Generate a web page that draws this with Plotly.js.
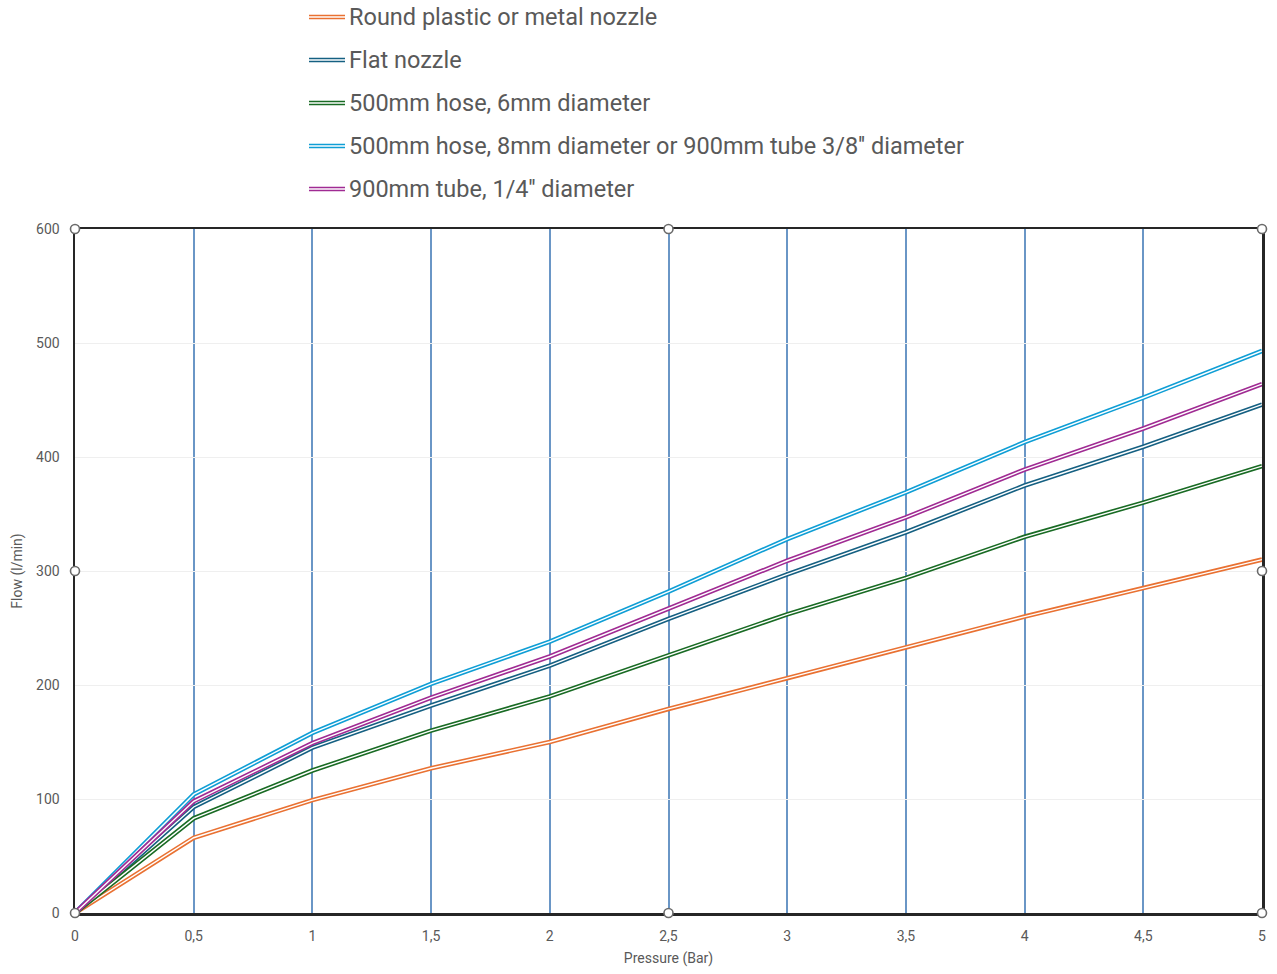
<!DOCTYPE html>
<html>
<head>
<meta charset="utf-8">
<script src="https://cdn.plot.ly/plotly-3.0.1.min.js"></script>
<style>html,body{margin:0;padding:0;background:#fff;}#chart{width:1277px;height:974px;}</style>
</head>
<body>
<div id="chart"></div>
<script>
const pressure = [0, 0.5, 1, 1.5, 2, 2.5, 3, 3.5, 4, 4.5, 5];
const seriesNames = [
  "Round plastic or metal nozzle",
  "Flat nozzle",
  "500mm hose, 6mm diameter",
  "500mm hose, 8mm diameter or 900mm tube 3/8'' diameter",
  "900mm tube, 1/4'' diameter"
];
const roundNozzle = [0, 66, 99, 127, 150, 179, 206, 233, 260, 285, 310];
const flatNozzle  = [0, 93, 145, 182, 217, 258, 297, 334, 375, 409, 446];
const hose6mm     = [0, 83, 125, 160, 190, 226, 262, 294, 330, 360, 392];
const hose8mm     = [0, 104, 158, 201, 238, 282, 328, 369, 413, 452, 493];
const tube14      = [0, 98, 149, 189, 225, 267, 309, 347, 389, 425, 464];
const seriesValues = [roundNozzle, flatNozzle, hose6mm, hose8mm, tube14];
const seriesColors = ["#E97132", "#156082", "#196B24", "#0F9ED5", "#A02B93"];
const xTickVals = [0, 0.5, 1, 1.5, 2, 2.5, 3, 3.5, 4, 4.5, 5];
const yTickVals = [0, 100, 200, 300, 400, 500, 600];

const traces = [];
seriesValues.forEach((vals, i) => {
  traces.push({x: pressure, y: vals, type: 'scatter', mode: 'lines', name: seriesNames[i],
    line: {color: seriesColors[i], width: 4.6}, showlegend: false, hoverinfo: 'skip'});
  traces.push({x: pressure, y: vals, type: 'scatter', mode: 'lines', name: seriesNames[i] + ' inner',
    line: {color: '#ffffff', width: 1.4}, showlegend: false, hoverinfo: 'skip'});
});

const L = 75, R = 1262, T = 229, B = 913;
const W = R - L, H = B - T;
function px2paperX(p) { return (p - L) / W; }
function px2paperY(p) { return (B - p) / H; }

const shapes = [];
const annotations = [];
const legendY = [17, 60, 103, 146, 189];
seriesNames.forEach((n, i) => {
  const yy = px2paperY(legendY[i]);
  shapes.push({type: 'line', xref: 'paper', yref: 'paper', x0: px2paperX(309), x1: px2paperX(345), y0: yy, y1: yy,
    line: {color: seriesColors[i], width: 4.6}});
  shapes.push({type: 'line', xref: 'paper', yref: 'paper', x0: px2paperX(309), x1: px2paperX(345), y0: yy, y1: yy,
    line: {color: '#ffffff', width: 1.4}});
  annotations.push({xref: 'paper', yref: 'paper', x: px2paperX(347), y: yy, xanchor: 'left', yanchor: 'middle',
    text: n, showarrow: false, font: {family: 'Roboto, sans-serif', size: 23.5, color: '#595959'}});
});

// selection-handle circles at corners and midpoints
const handles = [[0,1],[0.5,1],[1,1],[0,0.5],[1,0.5],[0,0],[0.5,0],[1,0]];
handles.forEach(h => {
  shapes.push({type: 'circle', xref: 'x domain', yref: 'y domain', xsizemode: 'pixel', ysizemode: 'pixel',
    xanchor: h[0], yanchor: h[1], x0: -4.5, x1: 4.5, y0: -4.5, y1: 4.5,
    fillcolor: '#ffffff', line: {color: '#6b6b6b', width: 1.6}, layer: 'above'});
});

const layout = {
  width: 1277, height: 974,
  margin: {l: L, r: 1277 - R, t: T, b: 974 - B, pad: 0},
  paper_bgcolor: '#ffffff', plot_bgcolor: '#ffffff',
  separators: ', ',
  showlegend: false,
  font: {family: 'Roboto, sans-serif', color: '#595959', size: 14},
  xaxis: {
    range: [0, 5], tickvals: xTickVals, showgrid: true, gridcolor: '#6A96C6', gridwidth: 2,
    zeroline: false, showline: true, mirror: true, linecolor: '#262626', linewidth: 2.5,
    ticks: '', ticklen: 0, tickfont: {size: 14, color: '#595959'}, ticklabelstandoff: 9,
    title: {text: 'Pressure (Bar)', font: {size: 14, color: '#595959'}, standoff: 10}
  },
  yaxis: {
    range: [0, 600], tickvals: yTickVals, showgrid: true, gridcolor: '#efefef', gridwidth: 1,
    zeroline: false, showline: true, mirror: true, linecolor: '#262626', linewidth: 2.5,
    ticks: '', tickfont: {size: 14, color: '#595959'}, ticklabelstandoff: 10,
    title: {text: 'Flow (l/min)', font: {size: 14, color: '#595959'}, standoff: 10}
  },
  shapes: shapes,
  annotations: annotations
};

Plotly.newPlot('chart', traces, layout, {staticPlot: true, displayModeBar: false});
</script>
</body>
</html>
